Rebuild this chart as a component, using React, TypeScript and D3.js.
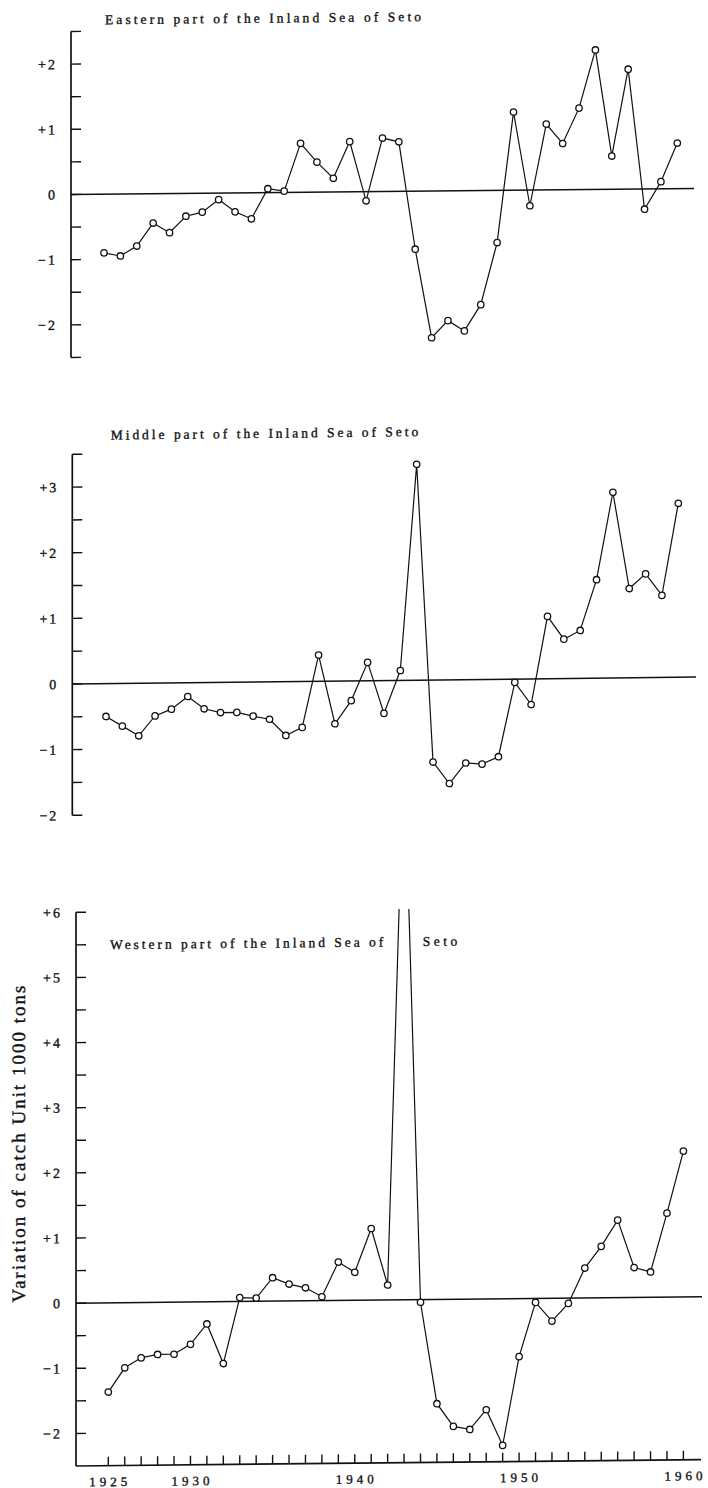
import React from "react";
import * as d3 from "d3";

// Years of the catch record
const years = [
  1925, 1926, 1927, 1928, 1929, 1930, 1931, 1932, 1933, 1934, 1935, 1936,
  1937, 1938, 1939, 1940, 1941, 1942, 1943, 1944, 1945, 1946, 1947, 1948,
  1949, 1950, 1951, 1952, 1953, 1954, 1955, 1956, 1957, 1958, 1959, 1960,
];

// Variation of catch (unit: 1000 tons) by region
const eastern = [
  -0.9, -0.95, -0.8, -0.45, -0.6, -0.35, -0.29, -0.1, -0.29, -0.4, 0.06, 0.02,
  0.75, 0.46, 0.21, 0.77, -0.14, 0.82, 0.76, -0.89, -2.25, -1.99, -2.15, -1.75,
  -0.8, 1.2, -0.24, 1.01, 0.71, 1.25, 2.14, 0.51, 1.84, -0.31, 0.11, 0.7,
];
const middle = [
  -0.5, -0.65, -0.8, -0.5, -0.4, -0.21, -0.4, -0.46, -0.46, -0.52, -0.57, -0.82,
  -0.7, 0.4, -0.65, -0.3, 0.28, -0.5, 0.15, 3.29, -1.25, -1.58, -1.27, -1.29,
  -1.18, -0.05, -0.39, 0.95, 0.6, 0.73, 1.5, 2.83, 1.36, 1.58, 1.25, 2.65,
];
const western = [
  -1.37, -1.0, -0.85, -0.8, -0.8, -0.65, -0.34, -0.95, 0.06, 0.05, 0.36, 0.26,
  0.2, 0.06, 0.59, 0.43, 1.1, 0.23, 8.5, -0.04, -1.6, -1.95, -2.0, -1.7,
  -2.25, -0.89, -0.06, -0.35, -0.08, 0.46, 0.79, 1.19, 0.46, 0.39, 1.29, 2.24,
];

// Axis labelling
const easternTicks = [2, 1, 0, -1, -2];
const middleTicks = [3, 2, 1, 0, -1, -2];
const westernTicks = [6, 5, 4, 3, 2, 1, 0, -1, -2];
const yearLabels = [1925, 1930, 1940, 1950, 1960];

const titles = {
  eastern: "Eastern part of the Inland Sea of Seto",
  middle: "Middle part of the Inland Sea of Seto",
  westernA: "Western part of the Inland Sea of",
  westernB: "Seto",
};
const yAxisTitle = "Variation of catch Unit 1000 tons";

const FONT = "'Liberation Serif', 'DejaVu Serif', serif";
const INK = "#111";

// printed text is slightly heavier than the plain face
const textInk = { fill: INK, stroke: INK, strokeWidth: 0.35 };

const fmt = (v: number) => (v > 0 ? `+${v}` : v < 0 ? `\u2212${-v}` : "0");

type PanelProps = {
  values: number[];
  ticks: number[];
  axisX: number;
  yDomain: [number, number];
  yRange: [number, number];
  xRange: [number, number];
  zeroEnd: number;
  skew: number;
  clipTop?: number;
  capBottom: boolean;
  id: string;
  children?: React.ReactNode;
};

function Panel(p: PanelProps) {
  const x = d3.scaleLinear().domain([1925, 1960]).range(p.xRange);
  const y = d3.scaleLinear().domain(p.yDomain).range(p.yRange);
  const pts = years.map((yr, i) => ({ yr, v: p.values[i] }));
  const line = d3
    .line<{ yr: number; v: number }>()
    .x((d) => x(d.yr))
    .y((d) => y(d.v));

  // half-unit ticks along the vertical axis
  const minorEnd = p.capBottom ? p.yDomain[0] : p.yDomain[0] + 0.5;
  const halfTicks = d3.range(p.yDomain[1], minorEnd - 0.001, -0.5);

  const top = y(p.yDomain[1]);
  const bottom = y(p.yDomain[0]);
  const clipId = `clip-${p.id}`;
  const clipY = p.clipTop !== undefined ? y(p.clipTop) : 0;

  return (
    <g
      transform={`translate(${p.axisX},0) skewY(${p.skew}) translate(${-p.axisX},0)`}
    >
      <defs>
        <clipPath id={clipId}>
          <rect x={p.axisX} y={clipY} width={708} height={1488} />
        </clipPath>
      </defs>
      {/* vertical axis */}
      <line
        x1={p.axisX}
        x2={p.axisX}
        y1={top}
        y2={bottom}
        stroke={INK}
        strokeWidth={1.7}
      />
      {halfTicks.map((t) => (
        <line
          key={`t${t}`}
          x1={p.axisX}
          x2={p.axisX + 10}
          y1={y(t)}
          y2={y(t)}
          stroke={INK}
          strokeWidth={1.4}
        />
      ))}
      {p.ticks.map((t) => (
        <text
          key={`l${t}`}
          x={p.axisX - 14}
          y={y(t)}
          dy="0.35em"
          textAnchor="end"
          fontFamily={FONT}
          fontSize={14}
          letterSpacing={2}
          {...textInk}
        >
          {fmt(t)}
        </text>
      ))}
      {/* zero line */}
      <line
        x1={p.axisX}
        x2={p.zeroEnd}
        y1={y(0)}
        y2={y(0)}
        stroke={INK}
        strokeWidth={1.5}
      />
      {/* series */}
      <path
        d={line(pts) ?? ""}
        fill="none"
        stroke={INK}
        strokeWidth={1.2}
        clipPath={`url(#${clipId})`}
      />
      {pts
        .filter((d) => p.clipTop === undefined || d.v <= p.clipTop)
        .map((d) => (
          <circle
            key={d.yr}
            cx={x(d.yr)}
            cy={y(d.v)}
            r={3.2}
            fill="#fff"
            stroke={INK}
            strokeWidth={1.3}
          />
        ))}
      {p.children}
    </g>
  );
}

export default function App() {
  const xW = d3.scaleLinear().domain([1925, 1960]).range([108.3, 683.4]);
  const axisBottomY = 1466;
  return (
    <svg
      width={708}
      height={1488}
      viewBox="0 0 708 1488"
      style={{ position: "absolute", left: 0, top: 0, background: "#fff" }}
    >
      <rect x={0} y={0} width={708} height={1488} fill="#fff" />

      {/* Eastern part */}
      <Panel
        id="east"
        values={eastern}
        ticks={easternTicks}
        axisX={71}
        yDomain={[-2.5, 2.5]}
        yRange={[357.5, 31.5]}
        xRange={[104, 677.3]}
        zeroEnd={694}
        skew={-0.55}
        capBottom={true}
      >
        <text
          x={105}
          y={24.5}
          fontFamily={FONT}
          fontSize={13.5}
          textLength={316}
          lengthAdjust="spacing"
          {...textInk}
        >
          {titles.eastern}
        </text>
      </Panel>

      {/* Middle part */}
      <Panel
        id="middle"
        values={middle}
        ticks={middleTicks}
        axisX={72.3}
        yDomain={[-2, 3.5]}
        yRange={[815.3, 454.3]}
        xRange={[106, 678.3]}
        zeroEnd={696}
        skew={-0.64}
        capBottom={true}
      >
        <text
          x={110.7}
          y={440}
          fontFamily={FONT}
          fontSize={13.5}
          textLength={307.6}
          lengthAdjust="spacing"
          {...textInk}
        >
          {titles.middle}
        </text>
      </Panel>

      {/* Western part */}
      <Panel
        id="west"
        values={western}
        ticks={westernTicks}
        axisX={76}
        yDomain={[-2.5, 6]}
        yRange={[axisBottomY, 912.3]}
        xRange={[108.3, 683.4]}
        zeroEnd={702}
        skew={-0.58}
        clipTop={6}
        capBottom={false}
      >
        <text
          x={110}
          y={949.5}
          fontFamily={FONT}
          fontSize={13.5}
          textLength={273.3}
          lengthAdjust="spacing"
          {...textInk}
        >
          {titles.westernA}
        </text>
        <text
          x={422.7}
          y={949.5}
          fontFamily={FONT}
          fontSize={13.5}
          textLength={34.6}
          lengthAdjust="spacing"
          {...textInk}
        >
          {titles.westernB}
        </text>
        {/* time axis */}
        <line
          x1={76}
          x2={701}
          y1={axisBottomY}
          y2={axisBottomY}
          stroke={INK}
          strokeWidth={1.7}
        />
        {years.map((yr) => (
          <line
            key={`yt${yr}`}
            x1={xW(yr)}
            x2={xW(yr)}
            y1={axisBottomY}
            y2={axisBottomY - 9}
            stroke={INK}
            strokeWidth={1.4}
          />
        ))}
        {yearLabels.map((yr) => (
          <text
            key={`yl${yr}`}
            x={xW(yr)}
            y={1486.5}
            textAnchor="middle"
            fontFamily={FONT}
            fontSize={13}
            letterSpacing={4}
            dx={2}
            {...textInk}
          >
            {yr}
          </text>
        ))}
        <text
          transform="translate(25,1143.5) rotate(-90)"
          textAnchor="middle"
          fontFamily={FONT}
          fontSize={19}
          textLength={317}
          lengthAdjust="spacing"
          {...textInk}
        >
          {yAxisTitle}
        </text>
      </Panel>
    </svg>
  );
}
